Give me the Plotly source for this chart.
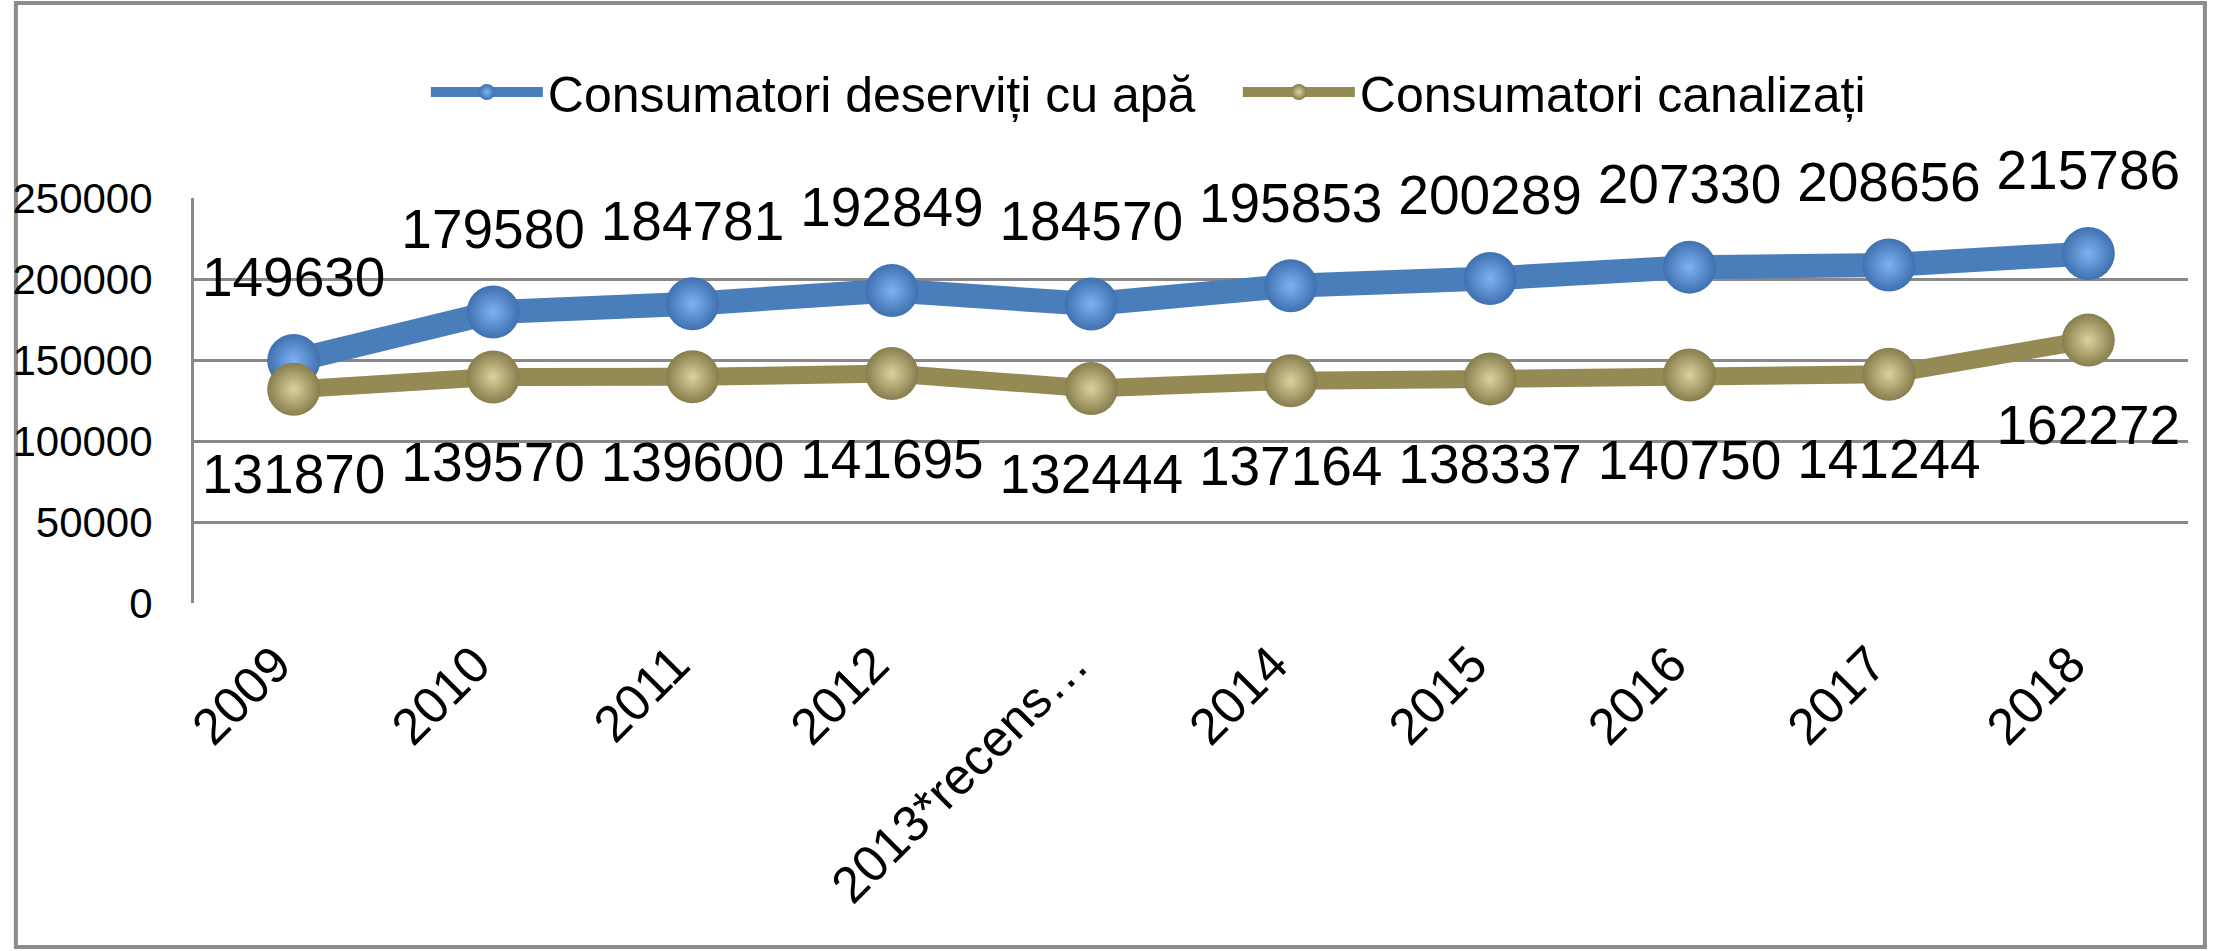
import plotly.graph_objects as go

categories = ["2009", "2010", "2011", "2012", "2013*recens…", "2014", "2015", "2016", "2017", "2018"]
water_served = [149630, 179580, 184781, 192849, 184570, 195853, 200289, 207330, 208656, 215786]
sewer_connected = [131870, 139570, 139600, 141695, 132444, 137164, 138337, 140750, 141244, 162272]
series_names = ["Consumatori deserviți cu apă", "Consumatori canalizați"]
y_ticks = [0, 50000, 100000, 150000, 200000, 250000]

FONT = "Liberation Sans, Arial, sans-serif"
BLUE = "#4A7EBB"
OLIVE = "#948A54"
GRID = "#898989"

W, H = 2216, 951
L, R, T, B = 184, 28, 198, 348
pw, ph = W - L - R, H - T - B


def px_x(p):
    return (p - L) / pw


def px_y(p):
    return (H - B - p) / ph


fig = go.Figure()

fig.add_trace(go.Scatter(
    x=categories, y=water_served, name=series_names[0], mode="lines+markers",
    line=dict(color=BLUE, width=24),
    marker=dict(size=53, color="#3F70B0", gradient=dict(type="radial", color="#7DB2F0"),
                line=dict(width=0)),
    cliponaxis=False, hoverinfo="skip",
))
fig.add_trace(go.Scatter(
    x=categories, y=sewer_connected, name=series_names[1], mode="lines+markers",
    line=dict(color=OLIVE, width=18),
    marker=dict(size=53, color="#877D4D", gradient=dict(type="radial", color="#DCD29C"),
                line=dict(width=0)),
    cliponaxis=False, hoverinfo="skip",
))

# data labels
fig.add_trace(go.Scatter(
    x=categories, y=water_served, mode="markers+text", showlegend=False,
    marker=dict(size=79, color="rgba(0,0,0,0)"),
    text=[str(v) for v in water_served], textposition="top center",
    textfont=dict(family=FONT, size=55, color="#000000"),
    cliponaxis=False, hoverinfo="skip",
))
fig.add_trace(go.Scatter(
    x=categories, y=sewer_connected, mode="markers+text", showlegend=False,
    marker=dict(size=99, color="rgba(0,0,0,0)"),
    text=[str(v) for v in sewer_connected], textposition="bottom center",
    textfont=dict(family=FONT, size=55, color="#000000"),
    cliponaxis=False, hoverinfo="skip",
))

# outer chart border
fig.add_shape(type="rect", xref="paper", yref="paper",
              x0=px_x(5), x1=px_x(2205), y0=px_y(947), y1=px_y(3),
              line=dict(color="#8C8C8C", width=4), layer="below")

fig.update_layout(
    width=W, height=H,
    margin=dict(l=L, r=R, t=T, b=B, pad=0),
    paper_bgcolor="white", plot_bgcolor="white",
    font=dict(family=FONT, color="#000000"),
    showlegend=True,
    legend=dict(orientation="h", x=px_x(417), xanchor="left", y=px_y(92), yanchor="middle",
                font=dict(family=FONT, size=50, color="#000000"),
                itemwidth=112, entrywidth=685, entrywidthmode="pixels",
                bgcolor="rgba(0,0,0,0)", tracegroupgap=0),
    xaxis=dict(type="category", range=[-0.5, 9.5], showgrid=False, zeroline=False,
               showline=False, tickangle=-45, ticks="",
               ticklabelstandoff=20, ticklabelshift=-18,
               tickfont=dict(family=FONT, size=51, color="#000000")),
    yaxis=dict(range=[0, 250000], tickvals=y_ticks, ticktext=[str(v) for v in y_ticks],
               showgrid=True, gridcolor=GRID, gridwidth=3, zeroline=False,
               showline=True, linecolor=GRID, linewidth=3, ticks="",
               ticklabelstandoff=30,
               tickfont=dict(family=FONT, size=42, color="#000000")),
)

fig.write_html("out.html", config={"displayModeBar": False},
               post_script="document.body.style.margin='0';document.body.style.overflow='hidden';")
